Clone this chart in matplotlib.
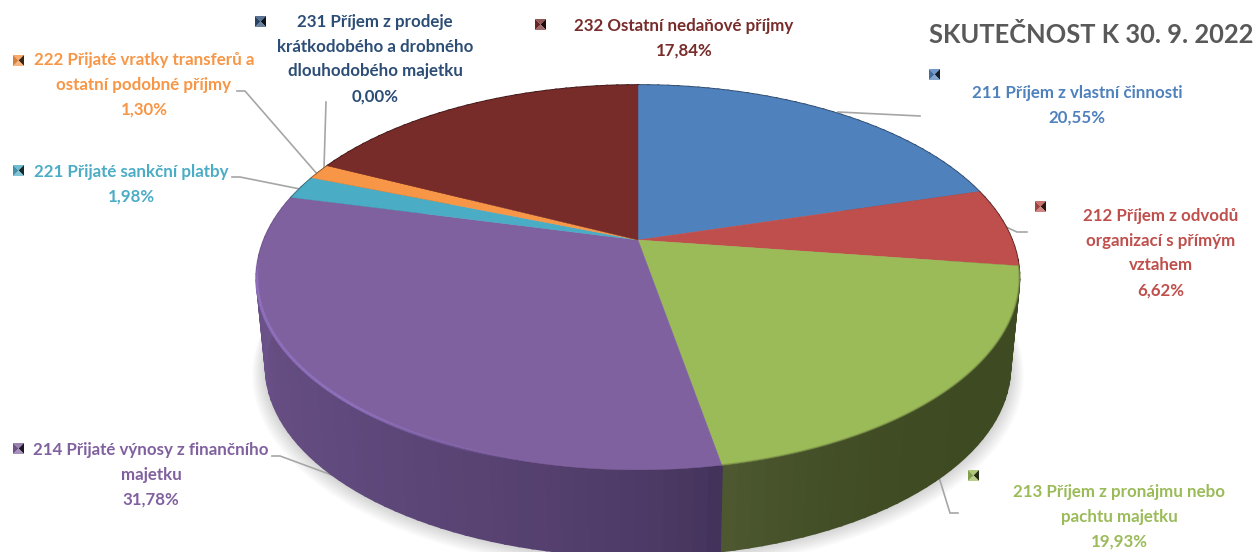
import numpy as np
import matplotlib
matplotlib.use('Agg')
import matplotlib.pyplot as plt
from matplotlib.colors import to_rgb

plt.rcParams['font.family'] = ['Lato', 'DejaVu Sans']

# data, clockwise from 12 o'clock
CODES = ["211", "212", "213", "214", "221", "222", "231", "232"]
NAMES = [
    "Příjem z vlastní činnosti",
    "Příjem z odvodů\norganizací s přímým\nvztahem",
    "Příjem z pronájmu nebo\npachtu majetku",
    "Přijaté výnosy z finančního\nmajetku",
    "Přijaté sankční platby",
    "Přijaté vratky transferů a\nostatní podobné příjmy",
    "Příjem z prodeje\nkrátkodobého a drobného\ndlouhodobého majetku",
    "Ostatní nedaňové příjmy",
]
SHARES = [20.55, 6.62, 19.93, 31.78, 1.98, 1.30, 0.00, 17.84]
TITLE = "SKUTEČNOST K 30. 9. 2022"

COLORS = ["#4F81BD", "#BE4F4C", "#9BBB59", "#8061A0",
          "#4BACC6", "#F79646", "#2C4D75", "#772C2A"]
# side wall colours: start of slice, end of slice, gamma
SIDES = [("#2A4567", "#2A4567", 1), ("#4A1F1E", "#4A1F1E", 1),
         ("#3E4A22", "#4E5932", 5), ("#3F2F55", "#6F558E", 0.5),
         ("#2A5A68", "#2A5A68", 1), ("#7A4A22", "#7A4A22", 1),
         ("#1A2E46", "#1A2E46", 1), ("#3E1716", "#3E1716", 1)]

# label centre, marker top left corner, leader line (pixels)
LABEL_XY = [(1077, 105), (1161, 253), (1119, 517), (151, 475),
            (131, 184), (144, 85), (375, 59), (684, 38)]
MARKER_XY = [(929, 69), (1035, 201), (968, 470), (13, 443),
             (13, 165), (13, 55), (255, 16), (535, 19)]
LEADERS = [
    [(838, 112), (920, 116)],
    [(1006, 227), (1017, 232), (1027, 232)],
    [(938, 474), (950, 513), (958, 513)],
    [(272, 456), (280, 456), (340, 478)],
    [(232, 177), (240, 177), (300, 189)],
    [(237, 91), (245, 91), (318, 175)],
    [(326, 102), (324, 168)],
    None,
]

# perspective ellipse of the top face and of the bottom face
K = 0.195
TOP = dict(a=374, b=185, y0=240)
BOTTOM = dict(a=365, b=182, y0=330)
CX = 638


def project(frac, face, r=1.0):
    ang = 2 * np.pi * np.asarray(frac)
    x, y = r * np.sin(ang), -r * np.cos(ang)
    w = 1 - K * y
    return CX + face['a'] * x / w, face['y0'] + face['b'] * y / w


def mix(c0, c1, t):
    c0, c1 = np.array(to_rgb(c0)), np.array(to_rgb(c1))
    return tuple(c0 + (c1 - c0) * t)


def draw_marker(ax, x, y, color, size=11):
    base = np.array(to_rgb(color))
    cx, cy = x + size / 2, y + size / 2
    corners = [(x, y), (x + size, y), (x + size, y + size), (x, y + size)]
    shades = [base * 0.8 + 0.2, base * 0.25, base * 0.7 + 0.3, base * 0.85]
    for i, shade in enumerate(shades):
        p0, p1 = corners[i], corners[(i + 1) % 4]
        ax.fill([p0[0], p1[0], cx], [p0[1], p1[1], cy], color=shade, lw=0, zorder=6)


fig = plt.figure(figsize=(12.56, 5.52), dpi=100)
ax = fig.add_axes([0, 0, 1, 1])
ax.set_xlim(0, 1256)
ax.set_ylim(552, 0)
ax.axis('off')

edges = np.concatenate([[0], np.cumsum(SHARES)]) / 100.0

# soft shadow under the bottom rim
ring = np.linspace(0, 1, 400)
for s in range(1, 12):
    sx, sy = project(ring, BOTTOM, r=1 + s * 0.0032)
    ax.fill(sx, sy + s * 0.5, color='black', alpha=0.014, lw=0, zorder=1)

for pts in LEADERS:
    if pts:
        ax.plot(*zip(*pts), color='#A6A6A6', lw=1.2, zorder=2, solid_joinstyle='miter')

# side wall, thin strips so the shading can run along it
for i, share in enumerate(SHARES):
    if share == 0:
        continue
    c0, c1, gamma = SIDES[i]
    f = np.linspace(edges[i], edges[i + 1], max(3, int(share * 2)))
    tx, ty = project(f, TOP)
    bx, by = project(f, BOTTOM)
    for j in range(len(f) - 1):
        t = ((j + 0.5) / (len(f) - 1)) ** gamma
        col = mix(c0, c1, t)
        ax.fill([tx[j], tx[j + 1], bx[j + 1], bx[j]],
                [ty[j], ty[j + 1], by[j + 1], by[j]],
                color=col, ec=col, lw=1.5, zorder=3)

# top face
for i, share in enumerate(SHARES):
    if share == 0:
        continue
    f = np.linspace(edges[i], edges[i + 1], max(3, int(share * 6)))
    x, y = project(f, TOP)
    ax.fill(np.r_[CX, x], np.r_[TOP['y0'], y], color=COLORS[i], ec=COLORS[i], lw=0.3, zorder=4)

# bevel along the front rim, fading out towards the front
f = np.linspace(0.54, 0.735, 80)
x, y = project(f, TOP)
for j in range(len(f) - 1):
    fade = min(1.0, (f[j] - f[0]) / 0.07, (f[-1] - f[j]) / 0.02)
    ax.plot(x[j:j + 2], y[j:j + 2], color='#9273C2', lw=2.2, alpha=0.85 * fade,
            solid_capstyle='butt', zorder=5)
f = np.linspace(edges[2], edges[3], 120)
x, y = project(f, TOP)
ax.plot(x, y, color='#6E7F42', lw=1.4, alpha=0.45, zorder=5)

for i, code in enumerate(CODES):
    label = f"{code} {NAMES[i]}\n{SHARES[i]:.2f}%".replace('.', ',')
    ax.text(*LABEL_XY[i], label, color=COLORS[i], fontsize=12.2, fontweight='bold',
            ha='center', va='center', multialignment='center', linespacing=1.68, zorder=7)
    draw_marker(ax, *MARKER_XY[i], COLORS[i])

ax.text(929, 35, TITLE, color='#595959', fontsize=18.4, fontweight='bold',
        ha='left', va='center', zorder=7)

fig.savefig('out.png', dpi=100)
